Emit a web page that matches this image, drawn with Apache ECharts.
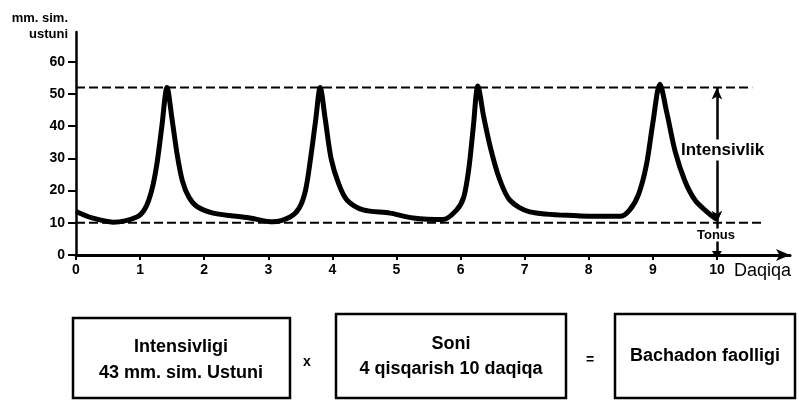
<!DOCTYPE html>
<html><head><meta charset="utf-8">
<script src="https://cdn.jsdelivr.net/npm/echarts@6/dist/echarts.min.js"></script>
<style>html,body{margin:0;padding:0;background:#fff}#c{width:799px;height:400px}</style>
</head><body><div id="c"></div>
<script>
// ---- data ----
const timeMin = [0, 0.25, 0.58, 0.95, 1.08, 1.18, 1.26, 1.34, 1.42, 1.50, 1.58, 1.66, 1.76, 1.89, 2.14, 2.71,
  3.07, 3.34, 3.48, 3.58, 3.66, 3.74, 3.81, 3.89, 3.98, 4.10, 4.23, 4.48, 4.90, 5.26, 5.73, 5.94, 6.05, 6.13, 6.20,
  6.27, 6.36, 6.47, 6.60, 6.77, 7.08, 7.82, 8.49, 8.64, 8.78, 8.90, 9.00, 9.11, 9.22, 9.35, 9.50, 9.66, 9.84, 10.0];
const pressure = [13.5, 11.5, 10.2, 11.8, 14.5, 20, 28, 40, 52, 42, 31, 23, 18, 15, 13, 11.5,
  10.3, 11.8, 14.5, 20, 30, 42, 52, 42, 30, 22, 17, 14, 13, 11.5, 11, 14, 18, 27, 40,
  52.5, 43, 33, 24, 17, 13.4, 12.2, 12, 14, 19, 28, 41, 53, 44, 32, 23, 17, 13.5, 11];
const xTickValues = [0, 1, 2, 3, 4, 5, 6, 7, 8, 9, 10];
const yTickValues = [0, 10, 20, 30, 40, 50, 60];
const intensityLevel = 52;
const tonusLevel = 10;
const topDashX = [0, 10.55];
const bottomDashX = [0, 10.7];
const markerTime = 10;
const yAxisTitle = ['mm. sim.', 'ustuni'];
const xAxisTitle = 'Daqiqa';
const intensityLabel = 'Intensivlik';
const tonusLabel = 'Tonus';
const boxTexts = ['Intensivligi\n43 mm. sim. Ustuni', 'Soni\n4 qisqarish 10 daqiqa', 'Bachadon faolligi'];
const operators = ['x', '='];

const FONT = '"Liberation Sans", Arial, sans-serif';
const chart = echarts.init(document.getElementById('c'), null, {renderer: 'canvas'});

const curve = timeMin.map((t, i) => [t, pressure[i]]);

function txt(x, y, text, opts) {
  return {
    type: 'text', x: x, y: y, z: 100,
    style: Object.assign({text: text, fill: '#000', font: 'bold 13px ' + FONT,
      textAlign: 'left', textVerticalAlign: 'middle'}, opts || {})
  };
}
function box(x, y, w, h) {
  return {type: 'rect', z: 90, shape: {x: x, y: y, width: w, height: h},
    style: {fill: '#fff', stroke: '#000', lineWidth: 2.5}};
}

chart.setOption({
  animation: false,
  backgroundColor: '#fff',
  grid: {left: 76, right: 9, top: 32, bottom: 145},
  xAxis: {
    type: 'value', min: 0, max: 11.14,
    splitLine: {show: false},
    axisLine: {lineStyle: {color: '#000', width: 3}, symbol: ['none', 'arrow'], symbolSize: [9, 14]},
    axisTick: {customValues: xTickValues, length: 5, lineStyle: {color: '#000', width: 2}},
    axisLabel: {customValues: xTickValues, color: '#000', fontWeight: 'bold', fontSize: 14, fontFamily: FONT, margin: 8}
  },
  yAxis: {
    type: 'value', min: 0, max: 69.25,
    splitLine: {show: false},
    axisLine: {show: true, lineStyle: {color: '#000', width: 2.5}},
    axisTick: {customValues: yTickValues, length: 8, lineStyle: {color: '#000', width: 2}},
    axisLabel: {customValues: yTickValues, color: '#000', fontWeight: 'bold', fontSize: 14, fontFamily: FONT, margin: 11}
  },
  series: [
    {type: 'line', data: curve, smooth: 0.3, symbol: 'none',
      lineStyle: {color: '#000', width: 5}, z: 5},
    {type: 'line', data: topDashX.map(x => [x, intensityLevel]), symbol: 'none',
      lineStyle: {color: '#000', width: 2, type: [9, 4]}, z: 3},
    {type: 'line', data: bottomDashX.map(x => [x, tonusLevel]), symbol: 'none',
      lineStyle: {color: '#000', width: 2, type: [9, 4]}, z: 3,
      markLine: {
        silent: true, animation: false, label: {show: false},
        lineStyle: {color: '#000', width: 2.5, type: 'solid'},
        data: [
          [{coord: [markerTime, intensityLevel], symbol: 'arrow', symbolSize: [8, 12]},
           {coord: [markerTime, tonusLevel], symbol: 'arrow', symbolSize: [8, 12]}],
          [{coord: [markerTime, tonusLevel], symbol: 'none'},
           {coord: [markerTime, 0], symbol: 'triangle', symbolSize: [10, 8]}]
        ]
      }}
  ],
  graphic: [
    txt(68, 18, yAxisTitle[0], {textAlign: 'right', font: 'bold 13px ' + FONT}),
    txt(68, 34, yAxisTitle[1], {textAlign: 'right', font: 'bold 13px ' + FONT}),
    txt(734, 271, xAxisTitle, {font: '18px ' + FONT}),
    txt(681, 150, intensityLabel, {font: 'bold 17px ' + FONT, backgroundColor: '#fff', padding: [2, 0, 2, 0]}),
    txt(716, 235, tonusLabel, {textAlign: 'center', font: 'bold 13px ' + FONT, backgroundColor: '#fff', padding: [0, 1, 0, 1]}),
    box(73, 318, 217, 80),
    box(336, 314, 230, 84),
    box(615, 314, 180, 84),
    txt(181, 360, boxTexts[0], {textAlign: 'center', font: 'bold 18px ' + FONT, lineHeight: 26}),
    txt(451, 357, boxTexts[1], {textAlign: 'center', font: 'bold 18px ' + FONT, lineHeight: 25}),
    txt(705, 356, boxTexts[2], {textAlign: 'center', font: 'bold 18px ' + FONT}),
    txt(307, 362, operators[0], {textAlign: 'center', font: 'bold 14px ' + FONT}),
    txt(590, 360, operators[1], {textAlign: 'center', font: 'bold 14px ' + FONT})
  ]
});
</script>
</body></html>
